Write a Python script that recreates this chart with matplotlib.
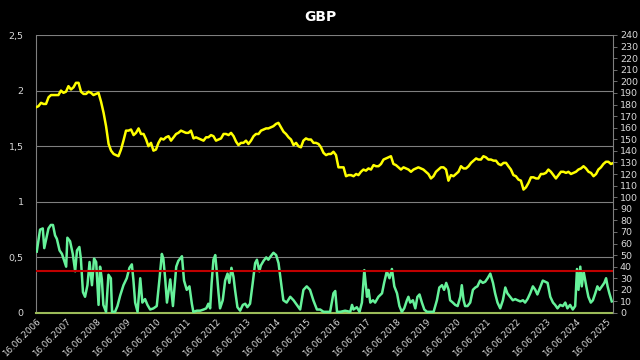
import matplotlib
matplotlib.use("Agg")
import matplotlib.pyplot as plt
import matplotlib.dates as mdates
import pandas as pd
import numpy as np
from datetime import datetime

# ---------------- data ----------------
title = "GBP"
rate_start = "2006-06-16"
# monthly GBP/USD rate (Jun 2006 .. Sep 2025), left axis
rate_values = [
    1.85, 1.86, 1.89, 1.88, 1.88, 1.94, 1.96,
    1.96, 1.96, 1.96, 2.00, 1.98, 1.99, 2.04, 2.01, 2.03, 2.07, 2.07, 1.99,
    1.97, 1.97, 1.99, 1.98, 1.96, 1.97, 1.98, 1.90, 1.80, 1.68, 1.52, 1.46,
    1.43, 1.42, 1.41, 1.47, 1.55, 1.64, 1.64, 1.65, 1.60, 1.62, 1.66, 1.61,
    1.61, 1.56, 1.50, 1.53, 1.46, 1.47, 1.53, 1.57, 1.56, 1.58, 1.59, 1.55,
    1.58, 1.61, 1.62, 1.64, 1.63, 1.62, 1.62, 1.64, 1.57, 1.58, 1.57, 1.56,
    1.55, 1.58, 1.58, 1.60, 1.59, 1.55, 1.56, 1.57, 1.61, 1.61, 1.60, 1.62,
    1.59, 1.54, 1.51, 1.53, 1.53, 1.55, 1.52, 1.55, 1.59, 1.61, 1.61, 1.64,
    1.65, 1.66, 1.66, 1.67, 1.68, 1.70, 1.71, 1.67, 1.63, 1.61, 1.58, 1.56,
    1.51, 1.53, 1.50, 1.49, 1.55, 1.57, 1.56, 1.56, 1.53, 1.53, 1.52, 1.49,
    1.44, 1.42, 1.43, 1.43, 1.45, 1.42, 1.31, 1.31, 1.31, 1.23, 1.24, 1.24,
    1.23, 1.25, 1.24, 1.27, 1.29, 1.28, 1.30, 1.29, 1.33, 1.32, 1.32, 1.34,
    1.38, 1.39, 1.40, 1.41, 1.34, 1.33, 1.31, 1.29, 1.31, 1.30, 1.29, 1.27,
    1.29, 1.30, 1.31, 1.30, 1.29, 1.27, 1.25, 1.21, 1.23, 1.27, 1.29, 1.31,
    1.31, 1.29, 1.19, 1.24, 1.23, 1.25, 1.27, 1.32, 1.30, 1.30, 1.32, 1.35,
    1.37, 1.39, 1.38, 1.38, 1.41, 1.40, 1.38, 1.38, 1.37, 1.37, 1.34, 1.33,
    1.35, 1.35, 1.32, 1.29, 1.24, 1.23, 1.20, 1.19, 1.11, 1.13, 1.17, 1.22,
    1.22, 1.21, 1.21, 1.25, 1.25, 1.26, 1.29, 1.27, 1.24, 1.21, 1.24, 1.27,
    1.27, 1.26, 1.27, 1.25, 1.26, 1.27, 1.29, 1.30, 1.32, 1.30, 1.27, 1.26,
    1.23, 1.25, 1.29, 1.31, 1.34, 1.36, 1.36, 1.34, 1.35,
]

# indicator (right axis), sampled at decimal years
ind_years = [
    2006.48, 2006.59, 2006.68, 2006.73, 2006.82, 2006.87, 2006.95, 2007.02, 2007.09, 2007.15,
    2007.24, 2007.32, 2007.37, 2007.46, 2007.50, 2007.59, 2007.68, 2007.76, 2007.82, 2007.90,
    2007.95, 2008.02, 2008.09, 2008.17, 2008.24, 2008.32, 2008.39, 2008.46, 2008.54, 2008.59,
    2008.65, 2008.70, 2008.79, 2008.87, 2008.95, 2008.99, 2009.09, 2009.17, 2009.26, 2009.37,
    2009.48, 2009.57, 2009.65, 2009.70, 2009.76, 2009.84, 2009.93, 2010.00, 2010.09, 2010.17,
    2010.26, 2010.37, 2010.48, 2010.57, 2010.65, 2010.70, 2010.76, 2010.82, 2010.93, 2011.02,
    2011.13, 2011.20, 2011.32, 2011.39, 2011.48, 2011.57, 2011.65, 2011.70, 2011.82, 2011.93,
    2012.04, 2012.13, 2012.20, 2012.26, 2012.31, 2012.37, 2012.43, 2012.48, 2012.54, 2012.59,
    2012.68, 2012.76, 2012.84, 2012.90, 2012.97, 2013.04, 2013.09, 2013.17, 2013.26, 2013.35,
    2013.43, 2013.50, 2013.59, 2013.68, 2013.76, 2013.82, 2013.90, 2013.95, 2014.04, 2014.13,
    2014.20, 2014.28, 2014.37, 2014.46, 2014.54, 2014.70, 2014.81, 2014.93, 2015.04, 2015.15,
    2015.26, 2015.37, 2015.48, 2015.59, 2015.70, 2015.82, 2015.93, 2016.04, 2016.26, 2016.37,
    2016.43, 2016.49, 2016.60, 2016.76, 2016.93, 2016.99, 2017.04, 2017.15, 2017.24, 2017.32,
    2017.40, 2017.49, 2017.54, 2017.60, 2017.69, 2017.76, 2017.87, 2017.99, 2018.06, 2018.15,
    2018.24, 2018.32, 2018.40, 2018.49, 2018.57, 2018.65, 2018.73, 2018.82, 2018.87, 2018.93,
    2019.02, 2019.10, 2019.17, 2019.24, 2019.32, 2019.40, 2019.49, 2019.60, 2019.71, 2019.82,
    2019.90, 2019.99, 2020.06, 2020.13, 2020.21, 2020.26, 2020.35, 2020.43, 2020.51, 2020.60,
    2020.65, 2020.71, 2020.76, 2020.84, 2020.93, 2021.02, 2021.10, 2021.17, 2021.26, 2021.35,
    2021.43, 2021.51, 2021.60, 2021.69, 2021.76, 2021.84, 2021.93, 2022.02, 2022.10, 2022.17,
    2022.26, 2022.35, 2022.43, 2022.51, 2022.60, 2022.69, 2022.76, 2022.84, 2022.93, 2023.02,
    2023.10, 2023.17, 2023.26, 2023.35, 2023.43, 2023.51, 2023.60, 2023.69, 2023.76, 2023.84,
    2023.93, 2024.02, 2024.10, 2024.17, 2024.26, 2024.35, 2024.43, 2024.49, 2024.54, 2024.60,
    2024.65, 2024.71, 2024.80, 2024.87, 2024.95, 2025.02, 2025.10, 2025.17, 2025.24, 2025.32,
    2025.40, 2025.46, 2025.51, 2025.57, 2025.65,
]
ind_values = [
    53, 72, 73, 56, 67, 73, 76, 76, 67, 64,
    54, 51, 47, 40, 65, 62, 51, 36, 54, 57,
    47, 18, 14, 24, 44, 24, 47, 44, 7, 40,
    29, 7, 1, 33, 30, 1, 1, 6, 15, 24,
    30, 39, 42, 29, 9, 1, 30, 9, 12, 7,
    3, 4, 6, 29, 51, 47, 30, 9, 29, 6,
    40, 45, 49, 28, 20, 23, 8, 1, 2, 2,
    3, 4, 8, 4, 26, 46, 50, 36, 17, 4,
    11, 28, 34, 26, 39, 31, 20, 5, 2, 7,
    8, 5, 8, 26, 43, 46, 36, 41, 45, 48,
    46, 49, 52, 50, 43, 11, 9, 14, 11, 7,
    3, 20, 23, 20, 11, 3, 3, 1, 1, 17,
    19, 1, 1, 2, 1, 7, 3, 5, 1, 9,
    37, 14, 20, 9, 11, 9, 14, 17, 26, 36,
    30, 38, 23, 17, 6, 1, 4, 11, 14, 9,
    11, 4, 14, 16, 9, 3, 1, 1, 1, 11,
    22, 24, 20, 26, 20, 11, 9, 7, 6, 14,
    24, 11, 6, 6, 9, 20, 22, 23, 28, 26,
    27, 30, 34, 26, 17, 9, 4, 11, 22, 17,
    14, 11, 12, 11, 10, 11, 9, 12, 17, 23,
    20, 16, 22, 28, 27, 26, 14, 9, 7, 4,
    7, 6, 9, 4, 7, 3, 6, 38, 20, 40,
    23, 36, 23, 14, 9, 11, 17, 23, 20, 23,
    26, 30, 23, 17, 10,
]
threshold = 0.38  # left-axis units

left_ticks = [0, 0.5, 1, 1.5, 2, 2.5]
left_labels = ["0", "0,5", "1", "1,5", "2", "2,5"]
right_ticks = list(range(0, 250, 10))
tick_years = list(range(2006, 2026))
x_start = "2006-06-16"
x_end = "2025-09-10"

# ---------------- plot ----------------
BG = "#000000"
TXT = "#d9d9d9"
GRID = "#7f7f7f"

fig = plt.figure(figsize=(6.4, 3.6), dpi=100, facecolor=BG)
ax = fig.add_axes([36/640, 1-313/360, (613-36)/640, (313-35)/360])
ax.set_facecolor(BG)
ax2 = ax.twinx()

rate_dates = pd.date_range("2006-06-01", periods=len(rate_values), freq="MS") + pd.Timedelta(days=15)
ax.plot(rate_dates, rate_values, color="#ffff00", lw=1.8, zorder=3)

base = mdates.date2num(datetime(2006, 1, 1))
ind_x = base + (np.array(ind_years) - 2006.0) * 365.25
ax2.plot(ind_x, ind_values, color="#66f29a", lw=1.8, zorder=3)
ax2.axhline(threshold * 240 / 2.5, color="#c00000", lw=1.5, zorder=4)

ax.set_ylim(0, 2.5)
ax2.set_ylim(0, 240)
ax.set_xlim(mdates.datestr2num(x_start), mdates.datestr2num(x_end))

ax.set_yticks(left_ticks)
ax.set_yticklabels(left_labels)
ax2.set_yticks(right_ticks)
ax2.set_yticklabels([str(v) for v in right_ticks])

xt = [datetime(y, 6, 16) for y in tick_years]
ax.set_xticks(xt)
ax.set_xticklabels([d.strftime("%d.%m.%Y") for d in xt], rotation=45,
                   ha="right", rotation_mode="anchor", fontsize=6.3, color=TXT)

ax.grid(axis="y", color=GRID, lw=0.8)
ax.set_axisbelow(True)
ax.tick_params(axis="y", length=0, colors=TXT, labelsize=6.8, pad=9)
ax.tick_params(axis="x", length=0, colors=TXT, pad=3)
ax2.tick_params(axis="y", length=3, width=0.6, colors=GRID, labelcolor=TXT, labelsize=6.8, pad=2)

for a in (ax, ax2):
    for s in ("top",):
        a.spines[s].set_visible(False)
ax2.spines["left"].set_visible(False)
ax2.spines["bottom"].set_visible(False)
ax.spines["right"].set_visible(False)
ax.spines["left"].set_color(GRID)
ax.spines["left"].set_linewidth(0.8)
ax2.spines["right"].set_color(GRID)
ax2.spines["right"].set_linewidth(0.8)
ax.spines["bottom"].set_color("#9bbb59")
ax.spines["bottom"].set_linewidth(1.5)
ax.spines["bottom"].set_zorder(5)

fig.text(0.5, 1 - 17/360, title, color="#ffffff", fontsize=10, fontweight="bold",
         ha="center", va="center")

fig.savefig("out.png", dpi=100, facecolor=BG)
